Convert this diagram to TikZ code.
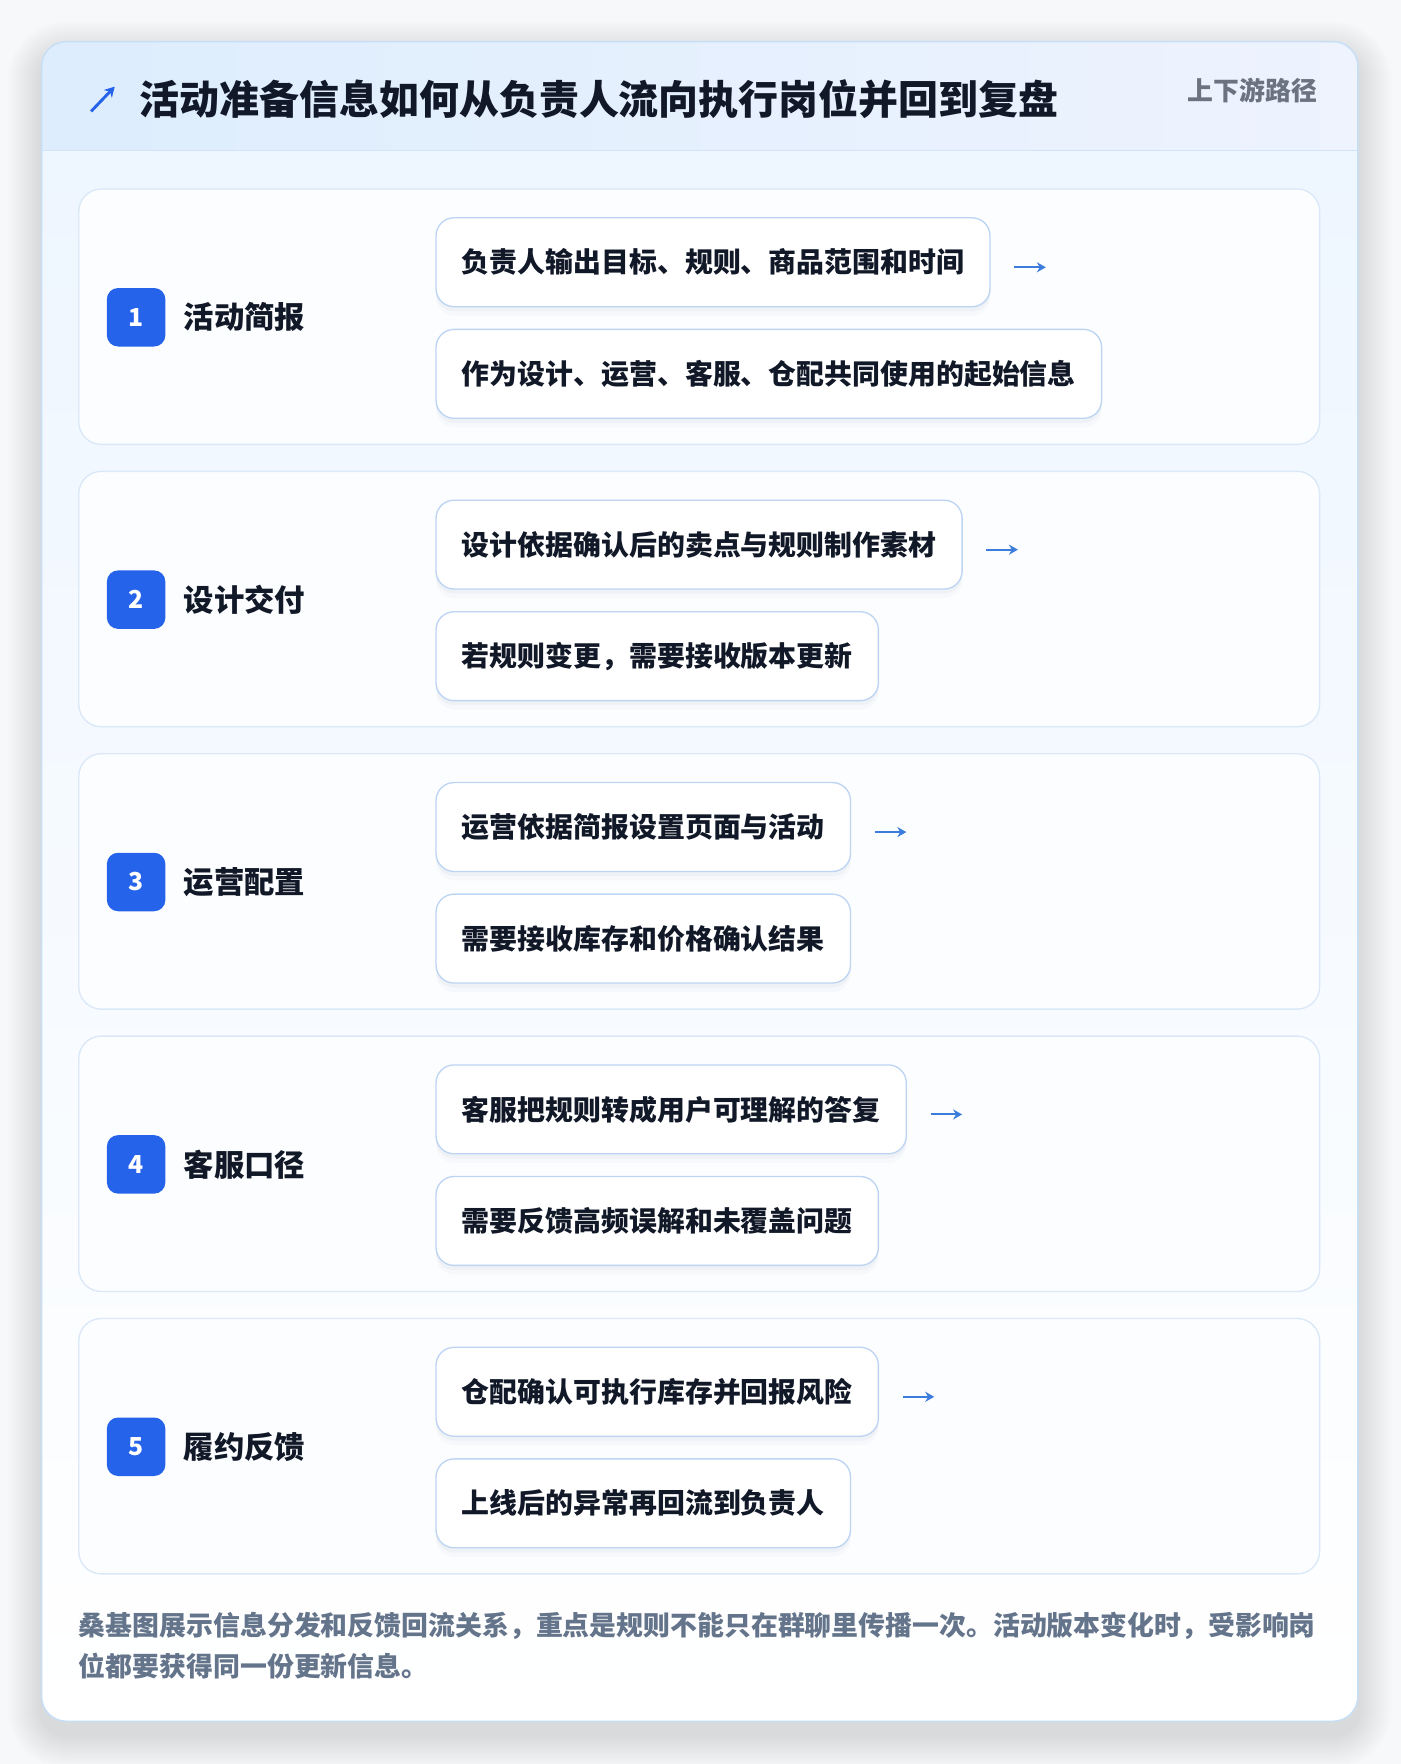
\documentclass[tikz,border=0pt]{standalone}
\usepackage{fontspec}
\setmainfont{Noto Sans CJK SC}
\usetikzlibrary{positioning,arrows.meta}
\definecolor{pagebg}{HTML}{F7F8FA}
\definecolor{cardline}{HTML}{C6DFF6}
\definecolor{headL}{HTML}{DDEDFD}
\definecolor{headR}{HTML}{EEF3FE}
\definecolor{headsep}{HTML}{D3E4F8}
\definecolor{bodytop}{HTML}{EEF6FF}
\definecolor{panelbg}{HTML}{FCFDFF}
\definecolor{panelline}{HTML}{DAE8F8}
\definecolor{itemline}{HTML}{BDD5F3}
\definecolor{badgeblue}{HTML}{2563EB}
\definecolor{flowblue}{HTML}{3B7DDD}
\definecolor{ink}{HTML}{111827}
\definecolor{subgray}{HTML}{6B7280}
\definecolor{footgray}{HTML}{64748B}
\definecolor{shade}{HTML}{1E3A5F}
\begin{document}
\begin{tikzpicture}[x=1pt,y=-1pt,
    panel/.style={draw=panelline,fill=panelbg,rounded corners=20pt,line width=1.2pt},
    badge/.style={fill=badgeblue,rounded corners=10pt,minimum size=52pt,inner sep=0pt,text=white,font=\fontsize{22}{22}\selectfont\bfseries},
    label/.style={inner sep=0pt,text=ink,font=\fontsize{27}{27}\selectfont\bfseries},
    item/.style={draw=itemline,fill=white,rounded corners=16pt,line width=1.2pt,minimum height=79pt,inner xsep=23pt,anchor=north west,text=ink,font=\fontsize{24.8}{24.8}\selectfont\bfseries,
        preaction={fill=shade,opacity=.035,draw=none,transform canvas={yshift=-4pt}},
        preaction={fill=shade,opacity=.025,draw=none,transform canvas={yshift=-8pt}}},
    flow/.style={draw=flowblue,line width=1.8pt,-{Stealth[length=8pt,width=9pt]}}]
        %% Page
        \fill[pagebg] (0,0) rectangle (1245,1568);
        \useasboundingbox (0,0) rectangle (1245,1568);
        %% Card
        \foreach \r in {2,4,...,30}
            \fill[black,opacity=.006,rounded corners=22pt+\r pt] (37-\r,37-\r+12) rectangle (1207+\r,1530+\r+12);
        \fill[white,rounded corners=22pt] (37,37) rectangle (1207,1530);
        \begin{scope}
            \clip[rounded corners=22pt] (37,37) rectangle (1207,1530);
            \shade[top color=bodytop,bottom color=white] (37,134) rectangle (1207,1530);
            \shade[left color=headL,right color=headR] (37,37) rectangle (1207,134);
            \draw[headsep,line width=1.2pt] (37,134) -- (1207,134);
        \end{scope}
        \draw[cardline,line width=1.3pt,rounded corners=22pt] (37,37) rectangle (1207,1530);
        %% Header
        \draw[draw=badgeblue,line width=2.6pt,-{Stealth[length=9pt,width=10pt]}] (81,99) -- (102,77);
        \node[anchor=west,inner sep=0pt,text=ink,font=\fontsize{35.5}{35.5}\selectfont\bfseries] (T) at (124,88) {活动准备信息如何从负责人流向执行岗位并回到复盘};
        \node[anchor=east,inner sep=0pt,text=subgray,font=\fontsize{23}{23}\selectfont\bfseries] (S) at (1171,80) {上下游路径};
        %% Row 1
        \draw[panel] (70,168) rectangle (1173,395);
        \node[badge] (N1) at (121,282) {1};
        \node[label,right=16pt of N1] (L1) {活动简报};
        \node[item] (A1) at (387,193) {负责人输出目标、规则、商品范围和时间};
        \node[item,below=19pt of A1.south west,anchor=north west] (B1) {作为设计、运营、客服、仓配共同使用的起始信息};
        \draw[flow] ([xshift=21pt,yshift=-4.5pt]A1.east) -- ++(28,0);
        %% Row 2
        \draw[panel] (70,419) rectangle (1173,646);
        \node[badge] (N2) at (121,533) {2};
        \node[label,right=16pt of N2] (L2) {设计交付};
        \node[item] (A2) at (387,444) {设计依据确认后的卖点与规则制作素材};
        \node[item,below=19pt of A2.south west,anchor=north west] (B2) {若规则变更，需要接收版本更新};
        \draw[flow] ([xshift=21pt,yshift=-4.5pt]A2.east) -- ++(28,0);
        %% Row 3
        \draw[panel] (70,670) rectangle (1173,897);
        \node[badge] (N3) at (121,784) {3};
        \node[label,right=16pt of N3] (L3) {运营配置};
        \node[item] (A3) at (387,695) {运营依据简报设置页面与活动};
        \node[item,below=19pt of A3.south west,anchor=north west] (B3) {需要接收库存和价格确认结果};
        \draw[flow] ([xshift=21pt,yshift=-4.5pt]A3.east) -- ++(28,0);
        %% Row 4
        \draw[panel] (70,921) rectangle (1173,1148);
        \node[badge] (N4) at (121,1035) {4};
        \node[label,right=16pt of N4] (L4) {客服口径};
        \node[item] (A4) at (387,946) {客服把规则转成用户可理解的答复};
        \node[item,below=19pt of A4.south west,anchor=north west] (B4) {需要反馈高频误解和未覆盖问题};
        \draw[flow] ([xshift=21pt,yshift=-4.5pt]A4.east) -- ++(28,0);
        %% Row 5
        \draw[panel] (70,1172) rectangle (1173,1399);
        \node[badge] (N5) at (121,1286) {5};
        \node[label,right=16pt of N5] (L5) {履约反馈};
        \node[item] (A5) at (387,1197) {仓配确认可执行库存并回报风险};
        \node[item,below=19pt of A5.south west,anchor=north west] (B5) {上线后的异常再回流到负责人};
        \draw[flow] ([xshift=21pt,yshift=-4.5pt]A5.east) -- ++(28,0);
        %% Note
        \node[anchor=west,inner sep=0pt,text=footgray,font=\fontsize{23.9}{23.9}\selectfont\bfseries] (F1) at (70,1445) {桑基图展示信息分发和反馈回流关系，重点是规则不能只在群聊里传播一次。活动版本变化时，受影响岗};
        \node[anchor=west,inner sep=0pt,text=footgray,font=\fontsize{23.9}{23.9}\selectfont\bfseries] (F2) at (70,1481) {位都要获得同一份更新信息。};
    \end{tikzpicture}
\end{document}
